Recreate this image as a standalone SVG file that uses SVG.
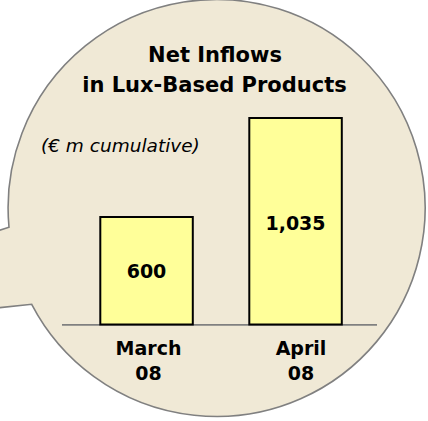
<svg xmlns="http://www.w3.org/2000/svg" width="428" height="421" viewBox="0 0 428 421">
<style>
text{font-family:"DejaVu Sans","Liberation Sans",sans-serif;fill:#000;text-anchor:middle}
.t{font-weight:bold;font-size:21px}
.b{font-weight:bold;font-size:19px}
.i{font-style:italic;font-size:18.5px;text-anchor:start}
.bar{fill:#FFFF99;stroke:#000;stroke-width:2}
</style>
<rect width="428" height="421" fill="#fff"/>
<g id="bubble">
<path d="M 9 227.3 A 208.5 208.5 0 1 1 31.7 304.3 L -5 308.2 L -5 231.8 Z" fill="#F0E9D6" stroke="#808080" stroke-width="1.6"/>
</g>
<g id="title">
<text class="t" x="215" y="62">Net Inflows</text>
<text class="t" x="214.5" y="91.5">in Lux-Based Products</text>
</g>
<g id="unit"><text class="i" x="41" y="151.5">(€ m cumulative)</text></g>
<g id="axis"><line x1="62" y1="324.8" x2="377" y2="324.8" stroke="#808080" stroke-width="1.8"/></g>
<g id="bar-march">
<rect class="bar" x="100.3" y="217" width="92.5" height="107.5"/>
<text class="b" x="146.5" y="278">600</text>
<text class="b" x="148.5" y="355">March</text>
<text class="b" x="148.5" y="380">08</text>
</g>
<g id="bar-april">
<rect class="bar" x="249.3" y="118" width="92.5" height="206.5"/>
<text class="b" x="295.5" y="230">1,035</text>
<text class="b" x="301" y="355">April</text>
<text class="b" x="301" y="380">08</text>
</g>
</svg>
